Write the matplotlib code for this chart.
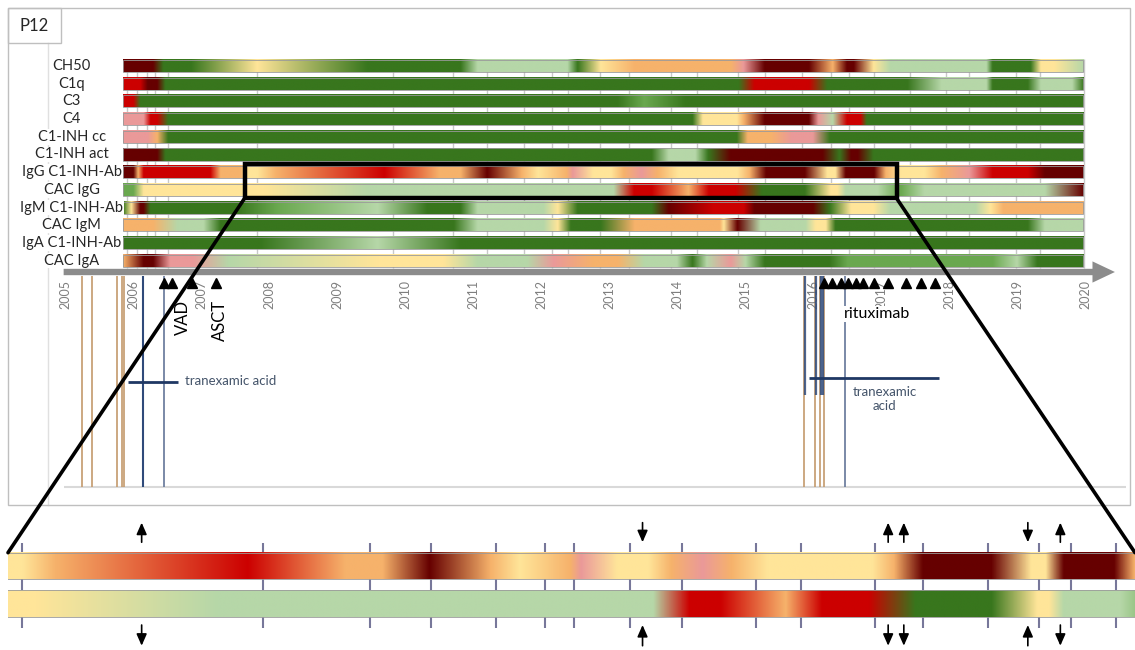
import numpy as np
import matplotlib
matplotlib.use('Agg')
import matplotlib.pyplot as plt
from matplotlib.colors import LinearSegmentedColormap
from matplotlib.patches import Rectangle, ConnectionPatch
from matplotlib.lines import Line2D

plt.rcParams['font.family'] = ['Lato', 'DejaVu Sans']

# colour levels used in the timeline
palette = {
    'G': '#38761d',  # dark green
    'm': '#6aa84f',  # mid green
    'g': '#b6d7a8',  # light green
    'Y': '#ffe599',  # light yellow
    'O': '#f6b26b',  # orange
    'P': '#ea9999',  # pink
    'R': '#cc0000',  # red
    'D': '#660000',  # dark red
}

row_labels = ['CH50', 'C1q', 'C3', 'C4', 'C1-INH cc', 'C1-INH act',
              'IgG C1-INH-Ab', 'CAC IgG', 'IgM C1-INH-Ab', 'CAC IgM',
              'IgA C1-INH-Ab', 'CAC IgA']

# (date, level) stops per row
ch50 = [(2005.85, 'D'), (2006.29, 'D'), (2006.44, 'G'), (2006.85, 'G'), (2007.82, 'Y'),
        (2009.44, 'G'), (2010.81, 'G'), (2011.06, 'g'), (2012.38, 'g'), (2012.53, 'G'),
        (2012.87, 'Y'), (2013.37, 'O'), (2014.78, 'O'), (2014.97, 'P'), (2015.28, 'D'),
        (2015.93, 'D'), (2016.28, 'O'), (2016.49, 'D'), (2016.59, 'D'), (2016.88, 'Y'),
        (2017.13, 'g'), (2018.54, 'g'), (2018.63, 'G'), (2019.19, 'G'), (2019.34, 'Y'),
        (2019.54, 'Y'), (2019.97, 'g')]
c1q = [(2005.85, 'R'), (2006.10, 'R'), (2006.21, 'D'), (2006.35, 'D'), (2006.47, 'G'),
       (2014.90, 'G'), (2015.13, 'R'), (2015.93, 'R'), (2016.20, 'G'), (2017.38, 'G'),
       (2017.88, 'g'), (2018.54, 'g'), (2018.63, 'G'), (2019.15, 'G'), (2019.34, 'g'),
       (2019.80, 'g'), (2019.97, 'G')]
c3 = [(2005.85, 'R'), (2006.00, 'R'), (2006.10, 'G'), (2013.12, 'G'), (2013.51, 'm'),
      (2014.12, 'G'), (2019.97, 'G')]
c4 = [(2005.85, 'P'), (2006.15, 'P'), (2006.25, 'R'), (2006.35, 'R'), (2006.51, 'G'),
      (2014.22, 'G'), (2014.37, 'Y'), (2014.87, 'Y'), (2014.97, 'O'), (2015.28, 'D'),
      (2015.93, 'D'), (2016.07, 'P'), (2016.28, 'g'), (2016.49, 'R'), (2016.69, 'R'),
      (2016.78, 'G'), (2019.97, 'G')]
c1inh_cc = [(2005.85, 'P'), (2006.21, 'P'), (2006.35, 'O'), (2006.51, 'G'), (2014.87, 'G'),
            (2015.03, 'O'), (2015.37, 'O'), (2015.68, 'P'), (2015.99, 'P'), (2016.24, 'G'),
            (2019.97, 'G')]
c1inh_act = [(2005.85, 'D'), (2006.35, 'D'), (2006.47, 'G'), (2013.62, 'G'), (2013.87, 'g'),
             (2014.26, 'g'), (2014.45, 'G'), (2014.78, 'D'), (2016.13, 'D'), (2016.38, 'G'),
             (2016.55, 'D'), (2016.65, 'D'), (2016.88, 'G'), (2019.97, 'G')]
igg_ab = [(2005.85, 'D'), (2006.00, 'D'), (2006.07, 'O'), (2006.15, 'R'), (2007.13, 'R'),
          (2007.28, 'O'), (2007.57, 'O'), (2007.69, 'Y'), (2007.82, 'Y'), (2008.09, 'O'),
          (2009.69, 'R'), (2010.50, 'O'), (2010.81, 'O'), (2011.20, 'D'),
          (2011.71, 'O'), (2011.95, 'Y'), (2012.37, 'O'), (2012.46, 'P'), (2012.76, 'Y'),
          (2013.02, 'Y'), (2013.21, 'O'), (2013.47, 'P'), (2013.71, 'O'), (2014.01, 'Y'),
          (2014.88, 'Y'), (2015.06, 'O'), (2015.30, 'D'), (2015.87, 'D'), (2016.20, 'Y'),
          (2016.32, 'Y'), (2016.47, 'D'), (2016.89, 'D'), (2017.06, 'O'), (2017.28, 'Y'),
          (2017.63, 'Y'), (2017.88, 'O'), (2018.29, 'P'), (2018.63, 'R'), (2019.15, 'R'),
          (2019.40, 'D'), (2019.97, 'D')]
cac_igg = [(2005.85, 'm'), (2006.00, 'm'), (2006.15, 'Y'), (2007.93, 'Y'), (2009.44, 'g'),
           (2013.06, 'g'), (2013.36, 'R'), (2013.62, 'R'), (2014.16, 'O'), (2014.46, 'R'),
           (2014.85, 'R'), (2015.24, 'G'), (2015.87, 'G'), (2016.25, 'Y'), (2016.35, 'Y'),
           (2016.47, 'g'), (2016.94, 'g'), (2017.28, 'm'), (2017.63, 'g'), (2019.40, 'g'),
           (2019.97, 'D')]
igm_ab = [(2005.85, 'G'), (2005.97, 'Y'), (2006.10, 'D'), (2006.15, 'D'), (2006.25, 'G'),
          (2007.53, 'G'), (2008.12, 'm'), (2009.59, 'g'), (2010.32, 'G'), (2010.81, 'G'),
          (2011.06, 'g'), (2012.03, 'g'), (2012.24, 'Y'), (2012.53, 'G'), (2013.62, 'G'),
          (2013.87, 'D'), (2014.53, 'R'), (2014.97, 'R'), (2015.13, 'D'), (2015.99, 'D'),
          (2016.24, 'G'), (2016.55, 'Y'), (2016.88, 'Y'), (2017.13, 'g'), (2018.38, 'g'),
          (2018.60, 'Y'), (2018.79, 'O'), (2019.97, 'O')]
cac_igm = [(2005.85, 'O'), (2006.29, 'O'), (2006.65, 'g'), (2007.03, 'g'), (2007.28, 'G'),
           (2010.71, 'G'), (2011.06, 'g'), (2012.03, 'g'), (2012.24, 'Y'), (2012.43, 'G'),
           (2012.87, 'G'), (2013.37, 'O'), (2014.62, 'O'), (2014.68, 'Y'), (2014.88, 'D'),
           (2015.22, 'g'), (2015.88, 'g'), (2016.03, 'Y'), (2016.18, 'Y'), (2016.32, 'G'),
           (2019.15, 'G'), (2019.40, 'g'), (2019.97, 'g')]
iga_ab = [(2005.85, 'G'), (2007.87, 'G'), (2009.59, 'g'), (2010.81, 'G'), (2019.97, 'G')]
cac_iga = [(2005.85, 'O'), (2006.15, 'D'), (2006.29, 'D'), (2006.54, 'P'), (2006.88, 'P'),
           (2007.40, 'g'), (2009.59, 'Y'), (2010.56, 'Y'), (2011.06, 'g'), (2011.79, 'g'),
           (2012.18, 'P'), (2012.76, 'O'), (2013.12, 'O'), (2013.51, 'g'), (2013.99, 'g'),
           (2014.22, 'G'), (2014.43, 'g'), (2014.78, 'P'), (2015.00, 'g'), (2015.28, 'G'),
           (2016.24, 'G'), (2016.50, 'm'), (2018.63, 'm'), (2018.99, 'g'), (2019.29, 'G'),
           (2019.97, 'G')]

rows = [ch50, c1q, c3, c4, c1inh_cc, c1inh_act, igg_ab, cac_igg, igm_ab, cac_igm, iga_ab, cac_iga]

# sampling dates (grid lines between rows)
measure_dates = [2005.91, 2006.06, 2006.21, 2006.32, 2006.51, 2007.82, 2009.82, 2010.71,
                 2011.21, 2011.75, 2012.16, 2012.40, 2012.87, 2013.30, 2013.91, 2014.29,
                 2014.90, 2015.30, 2015.84, 2016.26, 2016.53, 2016.90, 2017.43, 2017.96,
                 2018.29, 2018.98, 2019.34, 2019.99]
years = list(range(2005, 2021))

# events below the time axis
brown_lines = [2005.25, 2005.40, 2005.76, 2005.84, 2005.87, 2015.87, 2016.03, 2016.10, 2016.16]
navy_lines_full = [2006.15]
navy_lines_short = [2015.88, 2016.04, 2016.12, 2016.15]
slate_lines = [2006.46, 2016.47]
treat_left = [2006.46, 2006.57, 2006.87, 2007.22]
treat_right = [2016.16, 2016.28, 2016.41, 2016.51, 2016.63, 2016.74, 2016.90, 2017.10,
               2017.37, 2017.59, 2017.79]
txa_left = (2005.93, 2006.66)
txa_right = (2015.94, 2017.85)

# zoomed part
zoom_window = (2007.64, 2017.23)
strip_window = (2007.70, 2017.06)
arrow_dates = [2008.81, 2012.97, 2015.01, 2015.14, 2016.17, 2016.44]
igg_arrows = ['up', 'down', 'up', 'up', 'down', 'up']
cac_arrows = ['down', 'up', 'down', 'down', 'up', 'down']

W, H = 1135, 650
fig = plt.figure(figsize=(W / 100, H / 100), dpi=100)


def row_cmap(stops):
    d = np.array([s[0] for s in stops])
    pos = (d - d[0]) / (d[-1] - d[0])
    return LinearSegmentedColormap.from_list('row', list(zip(pos, [palette[c] for _, c in stops])), N=4096)


def draw_bar(ax, stops, y, h):
    x0, x1 = stops[0][0], stops[-1][0]
    ax.imshow(np.linspace(0, 1, 3000)[None, :], cmap=row_cmap(stops), aspect='auto',
              extent=(x0, x1, y + h / 2, y - h / 2), interpolation='bilinear', zorder=2)
    ax.add_patch(Rectangle((x0, y - h / 2), x1 - x0, h, fill=False, ec='#9a9a9a', lw=0.6, zorder=3))


# ---- upper panel ----
ax = fig.add_axes([8 / W, 1 - 505 / H, 1122 / W, 497 / H])
pitch = 17.7
ax.vlines(measure_dates, -0.4, 11.4, color='#c8c8c8', lw=1, zorder=1)
for i, (lab, stops) in enumerate(zip(row_labels, rows)):
    draw_bar(ax, stops, i, 0.68)
    ax.text(2005.10, i, lab, ha='center', va='center', fontsize=10.5, color='#262626',
            bbox=dict(fc='white', ec='none', pad=0.5))

axis_y = (272 - 66) / pitch
ax.arrow(2004.98, axis_y, 2020.44 - 2004.98, 0, width=0.36, head_width=1.2, head_length=0.33,
         length_includes_head=True, color='#8c8c8c', lw=0, zorder=4)
for yr in years:
    ax.text(yr, (280 - 66) / pitch, str(yr), rotation=90, ha='center', va='top',
            fontsize=9, color='#7f7f7f')

base_y = (487 - 66) / pitch
top_y = axis_y + 0.2
ax.hlines(base_y, 2004.98, 2020.6, color='#d9d9d9', lw=1.5, zorder=1)
ax.vlines(brown_lines, top_y, base_y, color='#c49a6c', lw=1.2, zorder=2)
ax.vlines(navy_lines_full, top_y, base_y, color='#2f4a7a', lw=1.5, zorder=3)
ax.vlines(navy_lines_short, top_y, (395 - 66) / pitch, color='#2f4a7a', lw=1.6, alpha=0.85, zorder=3)
ax.vlines(slate_lines, top_y, base_y, color='#7080a0', lw=1.3, zorder=3)

tri_y = (283 - 66) / pitch
ax.plot(treat_left, [tri_y] * len(treat_left), '^', color='black', ms=6.5, zorder=5)
ax.plot(treat_right, [tri_y] * len(treat_right), '^', color='black', ms=6.5, zorder=5)
ax.text(2006.74, (300 - 66) / pitch, 'VAD', rotation=90, ha='center', va='top', fontsize=12,
        bbox=dict(fc='white', ec='none', pad=0.5), zorder=4)
ax.text(2007.28, (300 - 66) / pitch, 'ASCT', rotation=90, ha='center', va='top', fontsize=12,
        bbox=dict(fc='white', ec='none', pad=0.5), zorder=4)
ax.text(2016.46, (314 - 66) / pitch, 'rituximab', ha='left', va='center', fontsize=11.5,
        bbox=dict(fc='white', ec='none', pad=1), zorder=4)

ax.hlines((382 - 66) / pitch, *txa_left, color='#1f3864', lw=2, zorder=4)
ax.text(txa_left[1] + 0.1, (381 - 66) / pitch, 'tranexamic acid', ha='left', va='center',
        fontsize=9.5, color='#44546a')
ax.hlines((378 - 66) / pitch, *txa_right, color='#1f3864', lw=2, zorder=4)
ax.text(2017.05, (399 - 66) / pitch, 'tranexamic\nacid', ha='center', va='center',
        fontsize=9.5, color='#44546a', linespacing=1.3)

rect_top, rect_bot = 5.55, 7.48
ax.add_patch(Rectangle((zoom_window[0], rect_top), zoom_window[1] - zoom_window[0],
                       rect_bot - rect_top, fill=False, ec='black', lw=3.2, zorder=6))

ax.set_xlim(2005 + (8 - 65) / 68, 2005 + (1130 - 65) / 68)
ax.set_ylim((505 - 66) / pitch, (8 - 66) / pitch)
ax.axis('off')

# ---- zoomed strips ----
ax2 = fig.add_axes([8 / W, 0, 1127 / W, 145 / H])
spitch = 37.5
draw_bar(ax2, igg_ab, 0, 0.71)
draw_bar(ax2, cac_igg, 1, 0.71)
in_win = [d for d in measure_dates if strip_window[0] < d < strip_window[1]]
tick_kw = dict(color='#77779a', lw=1.5, zorder=1)
ax2.vlines(in_win, -0.62, -0.355, **tick_kw)
ax2.vlines(in_win, 0.355, 0.645, **tick_kw)
ax2.vlines(in_win, 1.355, 1.65, **tick_kw)
akw = dict(arrowstyle='-|>,head_length=0.5,head_width=0.22', color='black', lw=1.2, mutation_scale=14)
for d, a in zip(arrow_dates, igg_arrows):
    lo, hi = -1.23, -0.56
    if a == 'up':
        ax2.annotate('', xy=(d, lo), xytext=(d, hi), arrowprops=akw)
    else:
        ax2.annotate('', xy=(d, hi), xytext=(d, lo), arrowprops=akw)
for d, a in zip(arrow_dates, cac_arrows):
    lo, hi = 1.5, 2.2
    if a == 'up':
        ax2.annotate('', xy=(d, lo), xytext=(d, hi), arrowprops=akw)
    else:
        ax2.annotate('', xy=(d, hi), xytext=(d, lo), arrowprops=akw)
ax2.set_xlim(*strip_window)
ax2.set_ylim((650 - 566) / spitch, (505 - 566) / spitch)
ax2.axis('off')

# connectors from the box to the zoomed strips
for xa, xb in [(zoom_window[0], strip_window[0]), (zoom_window[1], strip_window[1])]:
    con = ConnectionPatch(xyA=(xa, rect_bot), coordsA=ax.transData,
                          xyB=(xb, -0.355), coordsB=ax2.transData, color='black', lw=2.6)
    con.set_zorder(10)
    fig.add_artist(con)

# frames and panel tag
fig.add_artist(Rectangle((8 / W, 1 - 505 / H), 1122 / W, 497 / H, transform=fig.transFigure,
                         fill=False, ec='#bfbfbf', lw=1))
fig.add_artist(Rectangle((8 / W, 1 - 43 / H), 53 / W, 35 / H, transform=fig.transFigure,
                         fill=False, ec='#bfbfbf', lw=1))
fig.add_artist(Line2D([48 / W, 48 / W], [1 - 43 / H, 1 - 505 / H], transform=fig.transFigure,
                      color='#e0e0e0', lw=1, zorder=-1))
fig.text(34 / W, 1 - 26 / H, 'P12', ha='center', va='center', fontsize=12, color='#262626')

fig.savefig('out.png', dpi=100)
